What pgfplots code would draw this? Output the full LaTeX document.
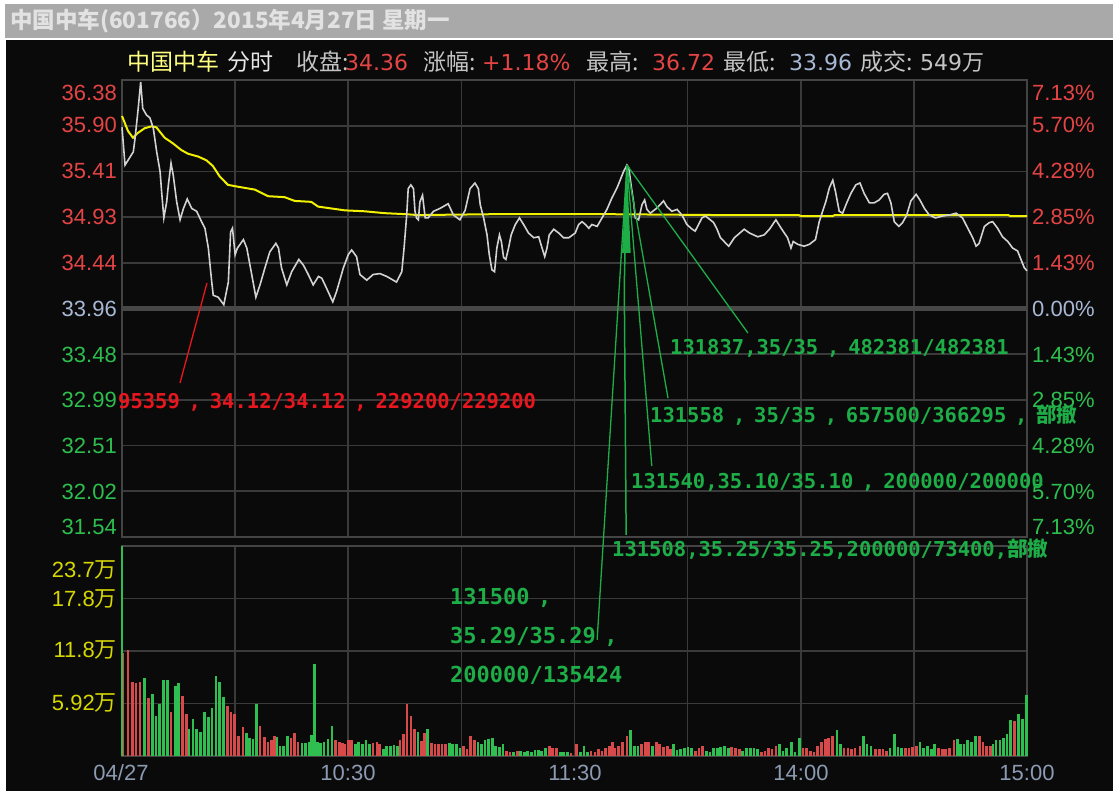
\documentclass[border=0pt]{standalone}
\usepackage{pgfplots}
\pgfplotsset{compat=1.18}
\usepackage{fontspec}
\setmainfont{Liberation Sans}
\newfontfamily\cjk{Noto Sans CJK SC}
\newfontfamily\dmono{DejaVu Sans Mono}
\newfontfamily\dejavu{DejaVu Sans}
\definecolor{bg}{HTML}{0A0A0A}
\definecolor{gridc}{HTML}{3A3A3A}
\definecolor{framec}{HTML}{444444}
\definecolor{centerc}{HTML}{474747}
\definecolor{upred}{HTML}{E44444}
\definecolor{dngreen}{HTML}{2DBE4E}
\definecolor{flatc}{HTML}{A8B8D4}
\definecolor{volyel}{HTML}{D6D600}
\definecolor{timec}{HTML}{8C9AB2}
\definecolor{pricel}{HTML}{D2D2D2}
\definecolor{avgc}{HTML}{F0F000}
\definecolor{annog}{HTML}{1EAE48}
\definecolor{annor}{HTML}{E8161E}
\definecolor{barr}{HTML}{D84A4A}
\definecolor{barg}{HTML}{2FBE50}
\definecolor{titlebg}{HTML}{A9A9A9}
\definecolor{titletx}{HTML}{E2E2E2}
\definecolor{lblgray}{HTML}{C4C4C4}
\definecolor{whitish}{HTML}{E6E6E6}
\definecolor{headyel}{HTML}{FFFF80}
\newcommand{\fs}[1]{\fontsize{#1}{#1}\selectfont}
\newcommand{\fc}{\makebox[30pt][c]{,}}

\pgfplotstableread{
t v
0.3 11.6
1.6 12.0
2.7 8.4
3.7 8.2
4.8 8.4
7.0 6.5
13.0 5.0
16.1 6.8
17.1 4.7
28.0 5.6
28.9 5.0
29.9 4.7
30.9 2.3
32.1 3.3
36.6 3.4
37.7 2.1
38.7 1.6
39.6 1.8
40.4 2.2
44.8 2.0
45.8 2.6
46.7 1.6
56.7 1.8
57.6 1.6
58.4 1.5
59.1 1.4
60.0 1.8
60.9 1.8
66.6 1.5
67.6 1.6
68.3 1.4
73.7 1.8
74.7 2.5
75.6 5.9
76.6 4.5
77.5 3.1
79.4 1.7
80.2 2.6
82.1 1.5
83.0 1.4
84.0 1.4
84.9 1.4
85.8 1.4
90.6 1.1
91.5 0.8
92.5 2.2
93.4 1.8
101.9 0.6
102.9 0.5
104.8 0.6
113.3 1.1
114.2 0.9
115.2 0.9
119.1 0.3
120.5 1.4
124.4 0.6
125.4 0.5
126.4 0.8
127.3 0.6
128.3 0.9
129.3 1.1
130.0 1.6
130.7 0.9
131.7 1.1
132.7 1.6
133.9 2.3
137.8 1.4
138.8 1.6
139.7 1.6
141.7 1.6
142.6 1.4
143.6 1.0
144.6 1.1
145.5 0.8
152.0 0.6
153.0 0.9
154.0 1.1
161.7 1.0
162.7 0.9
163.7 0.8
169.5 0.4
170.5 0.6
171.4 0.9
172.4 0.8
173.4 1.1
180.6 0.9
181.6 0.9
182.6 0.6
183.5 0.5
184.5 1.1
185.5 1.6
186.5 1.9
187.4 2.0
188.4 2.3
191.5 0.9
192.5 0.9
193.4 0.8
194.4 0.9
195.7 1.1
199.8 0.8
200.8 0.8
201.8 0.8
202.7 0.6
207.8 0.9
208.7 0.9
209.7 1.0
210.7 1.1
216.5 0.9
217.5 0.8
218.4 0.8
219.4 0.9
220.6 1.8
227.4 2.3
228.3 1.6
229.3 1.1
230.3 1.1
236.7 3.9
}\volred

\pgfplotstableread{
t v
6.0 8.8
8.0 7.0
9.0 4.5
10.0 5.9
11.0 8.6
12.0 8.6
14.1 7.9
15.0 8.2
17.8 3.1
18.8 4.2
19.7 3.1
20.8 2.7
21.8 5.0
22.9 4.4
23.9 5.4
24.9 9.0
25.9 8.4
27.0 6.7
33.0 2.6
33.9 2.0
34.7 1.9
35.7 5.9
41.1 2.1
41.9 1.1
42.9 1.1
43.9 2.2
47.7 1.5
48.6 1.5
49.6 1.6
50.2 2.4
51.0 10.4
51.9 1.6
52.7 1.5
53.6 1.6
54.6 1.9
55.7 3.4
61.9 1.4
62.8 1.6
63.8 1.4
64.7 1.8
65.7 1.4
69.3 0.8
70.2 1.1
71.2 1.1
72.1 1.2
73.1 1.1
78.5 2.7
81.1 3.1
86.8 1.5
87.7 1.4
88.7 1.4
89.6 0.9
94.4 1.6
95.3 1.4
96.3 1.8
97.2 1.9
98.2 2.0
99.1 1.1
100.1 1.0
101.0 1.4
103.8 0.5
105.7 0.6
106.7 0.5
107.6 0.6
108.6 0.5
109.5 0.7
110.5 0.7
111.3 0.6
112.3 0.9
116.2 0.5
117.1 0.5
118.1 0.4
121.5 0.5
122.5 1.1
123.5 0.5
134.9 2.9
135.9 1.1
136.8 1.1
140.7 1.1
146.2 1.4
147.2 0.7
148.2 0.8
149.1 0.9
150.1 1.0
151.1 0.9
155.0 0.6
155.9 0.5
156.9 0.9
157.9 0.9
158.8 1.0
159.8 1.1
160.8 0.9
164.6 0.6
165.6 0.9
166.6 0.9
167.6 0.9
168.5 0.8
174.3 1.4
175.3 0.6
176.3 0.9
177.5 1.6
178.5 0.4
179.7 2.0
189.6 2.9
190.5 1.4
196.6 2.3
197.6 1.4
198.6 1.1
203.7 0.9
204.9 2.5
205.8 1.0
206.8 0.9
211.6 1.6
212.6 0.9
213.6 1.1
214.6 0.8
215.5 1.4
221.5 1.9
222.3 1.4
223.3 1.4
224.3 1.8
225.2 1.6
226.4 2.3
231.0 1.4
231.8 1.8
232.8 1.8
233.7 2.0
234.7 2.5
235.7 4.1
237.8 4.7
238.8 4.2
239.8 6.9
}\volgreen

\begin{document}
\begin{tikzpicture}[x=1pt,y=1pt]
% frame of the window
\fill[white] (0,0) rectangle (1113,-791);
\fill[titlebg] (5,-4) rectangle (1113,-38);
\fill[bg] (6,-40) rectangle (1113,-791);
\node[anchor=base west, inner sep=0pt] at (10,-29) {\cjk\bfseries\fs{22.5}\color{titletx}中国中车(601766）2015年4月27日 星期一};

% volume panel
\begin{axis}[at={(122pt,-756pt)}, anchor=south west, width=905pt, height=210pt, scale only axis,
  xmin=0, xmax=240, ymin=0, ymax=23.68,
  xtick={30,60,...,210}, ytick={5.92,11.84,17.76},
  xticklabel=\empty, yticklabel=\empty, major tick length=0pt,
  grid=major, grid style={draw=gridc, line width=1.6pt},
  axis line style={draw=framec, line width=2pt}, clip=false]
\addplot[ycomb, barr, line width=2.7pt] table[x=t, y=v] {\volred};
\addplot[ycomb, barg, line width=2.7pt] table[x=t, y=v] {\volgreen};
\addplot[ycomb, barg, line width=1.4pt] coordinates {(0,23.68)};
\end{axis}

% price panel
\begin{axis}[at={(122pt,-537pt)}, anchor=south west, width=905pt, height=457pt, scale only axis,
  xmin=0, xmax=240, ymin=31.5387, ymax=36.3813,
  xtick={30,60,...,210}, ytick={32.0230,32.5072,32.9915,33.4757,34.4443,34.9285,35.4128,35.8970},
  xticklabel=\empty, yticklabel=\empty, major tick length=0pt,
  grid=major, grid style={draw=gridc, line width=1.6pt},
  axis line style={draw=framec, line width=2pt}, clip=false]
\draw[centerc, line width=5pt] (0,33.96) -- (240,33.96);
\addplot[avgc, line width=2pt] coordinates {
(0,36.0)(1.6,35.84)(2.9,35.77)(4.2,35.82)(6.0,35.87)(7.8,35.89)(9.1,35.88)(11.3,35.77)(13.5,35.71)(15.7,35.64)(17.5,35.60)(20.2,35.57)(22.4,35.53)(24.1,35.47)(25.9,35.36)(28.1,35.27)(30.8,35.25)(35.2,35.22)(38.7,35.15)(43.1,35.14)(45.8,35.10)(50.2,35.09)(52.0,35.04)(55.5,35.02)(59.1,35.00)(64.4,34.99)(69.7,34.97)(75.0,34.96)(78.5,34.95)(100,34.96)(126.8,34.96)(158.6,34.95)(179.5,34.95)(180,34.94)(188.5,34.94)(189,34.95)(235,34.95)(235.5,34.94)(240,34.94)};
\addplot[pricel, line width=1.6pt] coordinates {
(0,35.88)(0.8,35.48)(3.0,35.62)(3.45,35.76)(4.3,36.08)(4.95,36.36)(5.5,36.08)(6.5,36.01)(7.4,35.98)(8.3,35.87)(9.2,35.62)(10.1,35.41)(10.5,35.20)(11.1,34.92)(11.85,35.09)(12.3,35.27)(13.0,35.50)(13.6,35.37)(14.5,35.09)(15.4,34.90)(16.3,35.02)(17.3,35.12)(18.5,35.02)(19.8,34.99)(21.1,34.88)(22.0,34.81)(22.9,34.60)(23.8,34.24)(24.2,34.10)(25.5,34.08)(27.0,34.00)(28.2,34.24)(28.8,34.77)(29.3,34.81)(30.0,34.53)(30.6,34.60)(32.2,34.69)(33.1,34.60)(34.4,34.32)(35.5,34.08)(36.6,34.21)(37.9,34.39)(39.2,34.56)(40.8,34.65)(41.5,34.60)(42.3,34.39)(43.7,34.21)(45.0,34.35)(46.9,34.48)(48.1,34.42)(49.4,34.32)(50.7,34.21)(52.1,34.30)(53.0,34.28)(54.3,34.17)(55.9,34.03)(56.9,34.14)(58.7,34.39)(60.0,34.53)(60.9,34.58)(62.2,34.51)(63.1,34.32)(64.9,34.26)(66.6,34.32)(68.4,34.33)(70.2,34.30)(72.8,34.24)(74.2,34.35)(74.8,34.60)(75.5,34.95)(75.9,35.23)(76.6,35.27)(77.3,35.23)(77.7,34.99)(78.1,34.92)(78.6,34.90)(79.0,35.09)(79.7,35.16)(80.4,34.92)(81.2,34.92)(82.6,34.99)(84.3,35.02)(86.5,35.07)(87.9,34.95)(89.6,34.90)(91.0,35.00)(92.3,35.23)(93.6,35.29)(94.5,35.23)(95.0,35.06)(95.9,34.92)(96.8,34.74)(97.4,34.53)(98.1,34.37)(98.8,34.35)(99.4,34.60)(100.1,34.74)(100.6,34.67)(101.2,34.50)(101.8,34.48)(102.5,34.60)(103.2,34.74)(104.3,34.85)(105.4,34.92)(106.5,34.85)(107.8,34.76)(109.2,34.71)(110.5,34.72)(111.4,34.60)(112.1,34.51)(112.7,34.60)(113.3,34.74)(114.5,34.80)(115.8,34.76)(117.1,34.71)(118.5,34.71)(120.2,34.76)(121.1,34.85)(122.0,34.88)(122.9,34.85)(123.8,34.81)(124.6,34.85)(126.0,34.83)(127.3,34.92)(128.6,35.01)(129.9,35.13)(131.3,35.24)(132.1,35.32)(133.0,35.41)(133.9,35.48)(134.4,35.45)(135.1,35.24)(135.7,35.08)(136.1,34.92)(137.0,34.90)(137.9,35.06)(138.6,35.11)(139.2,35.01)(140.1,34.97)(141.4,35.01)(142.7,35.06)(143.6,35.10)(144.5,35.04)(145.8,34.99)(147.2,35.01)(148.5,34.95)(149.8,34.85)(151.2,34.80)(152.0,34.78)(152.9,34.85)(153.8,34.92)(154.7,34.94)(156.0,34.90)(156.9,34.87)(157.8,34.80)(158.7,34.71)(160.9,34.62)(162.4,34.71)(165.0,34.80)(166.4,34.76)(168.6,34.72)(170.3,34.74)(171.7,34.80)(173.4,34.90)(174.8,34.81)(176.5,34.71)(177.4,34.60)(178.0,34.67)(179.2,34.64)(180.9,34.62)(182.3,34.64)(183.9,34.69)(184.9,34.88)(185.8,34.99)(186.7,35.10)(187.6,35.24)(188.5,35.32)(189.2,35.20)(190.2,34.99)(191.1,34.97)(192.2,35.08)(193.3,35.18)(194.6,35.27)(195.7,35.29)(196.8,35.18)(198.2,35.08)(199.5,35.08)(200.8,35.11)(202.1,35.17)(203.0,35.18)(203.9,35.08)(204.8,34.88)(206.0,34.83)(207.0,34.87)(208.1,34.95)(209.2,35.10)(210.6,35.17)(211.6,35.11)(212.8,35.02)(214.1,34.95)(215.7,34.92)(217.6,34.94)(219.4,34.95)(221.2,34.97)(222.9,34.92)(224.3,34.81)(225.6,34.71)(226.5,34.62)(227.3,34.65)(228.7,34.83)(230.0,34.87)(230.9,34.88)(232.2,34.81)(233.5,34.72)(234.9,34.67)(236.2,34.60)(237.5,34.57)(238.4,34.48)(239.3,34.39)(240,34.36)};
% annotation leader lines
\draw[annor, line width=1.3pt] (22.54,34.23) -- (15.38,33.17);
\draw[annog, line width=1.3pt] (133.9,35.48) -- (166.0,33.70);
\draw[annog, line width=1.3pt] (133.9,35.48) -- (144.8,33.01);
\draw[annog, line width=1.3pt] (133.9,35.48) -- (140.5,32.29);
\draw[annog, line width=1.5pt] (133.9,35.48) -- (133.2,34.20) -- (133.7,31.56);
\draw[annog, line width=1.3pt] (133.9,35.48) -- (126.0,30.45);
\fill[annog] (133.9,35.48) -- (132.6,34.55) -- (134.9,34.55) -- cycle;
\end{axis}

% header line
\begin{scope}[every node/.style={inner sep=0pt, anchor=base west}]
\node at (127,-71) {\cjk\fs{23}\color{headyel}中国中车};
\node at (227,-71) {\cjk\fs{23}\color{whitish}分时};
\node at (296,-71) {\cjk\fs{23}\color{lblgray}收盘:};
\node at (345,-71) {\dejavu\fs{22}\color{upred}34.36};
\node at (423,-71) {\cjk\fs{23}\color{lblgray}涨幅:};
\node at (482,-71) {\dejavu\fs{22}\color{upred}+1.18\%};
\node at (586,-71) {\cjk\fs{23}\color{lblgray}最高:};
\node at (652,-71) {\dejavu\fs{22}\color{upred}36.72};
\node at (723,-71) {\cjk\fs{23}\color{lblgray}最低:};
\node at (789,-71) {\dejavu\fs{22}\color{flatc}33.96};
\node at (860,-71) {\cjk\fs{23}\color{lblgray}成交:};
\node at (920,-71) {\dejavu\fs{22}\color{lblgray}549{\cjk 万}};
\end{scope}

% price tick labels
\begin{scope}[every node/.style={inner sep=0pt, anchor=east}]
\node at (117,-93)  {\fs{22}\color{upred}36.38};
\node at (117,-125) {\fs{22}\color{upred}35.90};
\node at (117,-171) {\fs{22}\color{upred}35.41};
\node at (117,-217) {\fs{22}\color{upred}34.93};
\node at (117,-263) {\fs{22}\color{upred}34.44};
\node at (117,-309) {\fs{22}\color{flatc}33.96};
\node at (117,-355) {\fs{22}\color{dngreen}33.48};
\node at (117,-400) {\fs{22}\color{dngreen}32.99};
\node at (117,-446) {\fs{22}\color{dngreen}32.51};
\node at (117,-492) {\fs{22}\color{dngreen}32.02};
\node at (117,-527) {\fs{22}\color{dngreen}31.54};
\node at (117,-570) {\fs{22}\color{volyel}23.7{\cjk 万}};
\node at (117,-599) {\fs{22}\color{volyel}17.8{\cjk 万}};
\node at (117,-650) {\fs{22}\color{volyel}11.8{\cjk 万}};
\node at (117,-703) {\fs{22}\color{volyel}5.92{\cjk 万}};
\end{scope}
\begin{scope}[every node/.style={inner sep=0pt, anchor=west}]
\node at (1032,-93)  {\fs{22}\color{upred}7.13\%};
\node at (1032,-125) {\fs{22}\color{upred}5.70\%};
\node at (1032,-171) {\fs{22}\color{upred}4.28\%};
\node at (1032,-217) {\fs{22}\color{upred}2.85\%};
\node at (1032,-263) {\fs{22}\color{upred}1.43\%};
\node at (1032,-309) {\fs{22}\color{flatc}0.00\%};
\node at (1032,-355) {\fs{22}\color{dngreen}1.43\%};
\node at (1032,-400) {\fs{22}\color{dngreen}2.85\%};
\node at (1032,-446) {\fs{22}\color{dngreen}4.28\%};
\node at (1032,-492) {\fs{22}\color{dngreen}5.70\%};
\node at (1032,-527) {\fs{22}\color{dngreen}7.13\%};
\end{scope}
% time labels
\begin{scope}[every node/.style={inner sep=0pt, anchor=center}]
\node at (121,-773) {\fs{22}\color{timec}04/27};
\node at (348,-773) {\fs{22}\color{timec}10:30};
\node at (575,-773) {\fs{22}\color{timec}11:30};
\node at (801,-773) {\fs{22}\color{timec}14:00};
\node at (1027,-773) {\fs{22}\color{timec}15:00};
\end{scope}

% annotation texts
\begin{scope}[every node/.style={inner sep=0pt, anchor=base west}]
\node at (118,-408) {\dmono\bfseries\fs{20.5}\color{annor}95359\fc34.12/34.12\fc229200/229200};
\node at (670,-355) {\dmono\bfseries\fs{20.5}\color{annog}131837,35/35\fc482381/482381};
\node at (650,-422) {\dmono\bfseries\fs{20.5}\color{annog}131558\fc35/35\fc657500/366295\fc{\cjk\bfseries 部撤}};
\node at (631,-488) {\dmono\bfseries\fs{20.5}\color{annog}131540,35.10/35.10\fc200000/200000};
\node at (612,-556) {\dmono\bfseries\fs{20.5}\color{annog}131508,35.25/35.25,200000/73400,{\cjk\bfseries 部撤}};
\node at (450,-604) {\dmono\bfseries\fs{22}\color{annog}131500\fc};
\node at (450,-643) {\dmono\bfseries\fs{22}\color{annog}35.29/35.29\fc};
\node at (450,-682) {\dmono\bfseries\fs{22}\color{annog}200000/135424};
\end{scope}
\pgfresetboundingbox
\path[use as bounding box] (0,0) rectangle (1113,-791);
\end{tikzpicture}
\end{document}
